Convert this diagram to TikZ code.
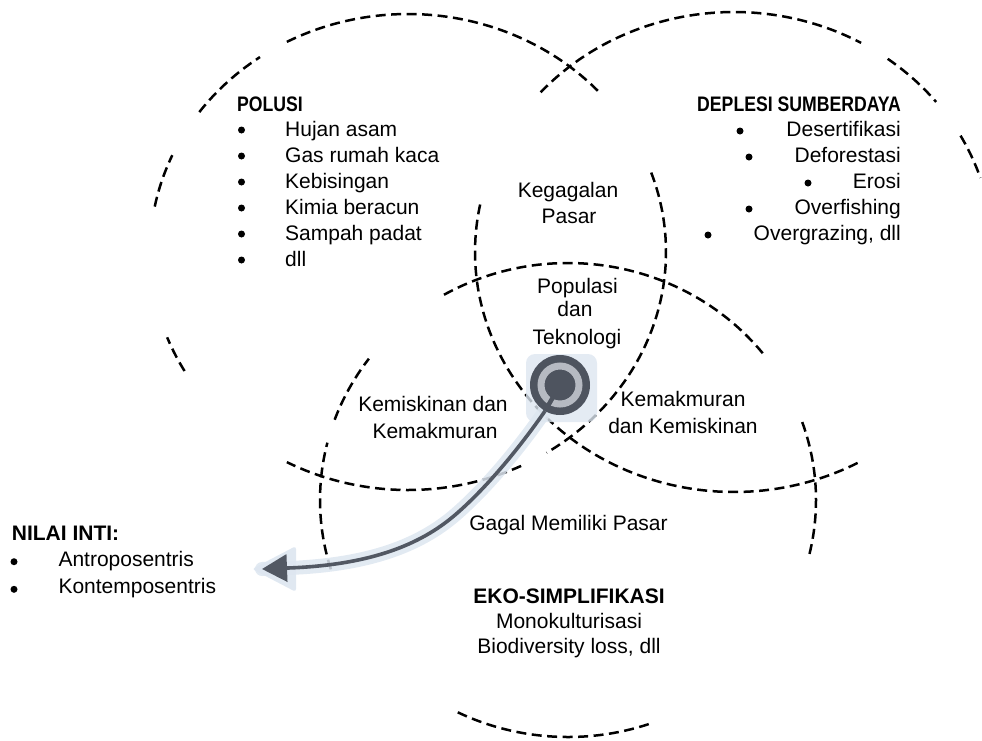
\documentclass[tikz,border=0pt]{standalone}
\usepackage{fontspec}
\setmainfont{Liberation Sans}
\newfontfamily\narrowfont[FakeStretch=0.84]{Liberation Sans}
\usetikzlibrary{arrows.meta}
\definecolor{glowc}{RGB}{221,230,240}
\definecolor{icdark}{RGB}{78,84,95}
\definecolor{iclight}{RGB}{182,186,194}
\definecolor{arrc}{RGB}{82,88,99}
\newcommand{\earc}[6]{\draw[dsh] plot[domain=#5:#6, samples=90, variable=\t] ({#1+#3*cos(\t)},{#2+#4*sin(\t)});}
\begin{document}
\begin{tikzpicture}[x=1pt,y=-1pt,
  dsh/.style={draw=black, line width=2.5pt, dash pattern=on 10pt off 5.5pt},
  txt/.style={font=\fontsize{21}{26}\selectfont, inner sep=0pt},
  hdr/.style={font=\fontsize{21}{26}\selectfont\bfseries, inner sep=0pt},
  nhdr/.style={font=\fontsize{21}{26}\selectfont\narrowfont\bfseries, inner sep=0pt},
  bul/.style={circle, fill=black, inner sep=0pt, minimum size=7pt},
  glowline/.style={draw=glowc, opacity=0.85, line width=14pt, line cap=round, line join=round},
  arrline/.style={draw=arrc, line width=3.6pt}
  ]
\useasboundingbox (0,0) rectangle (982,740);

% ---- ellipse P (Polusi)
\earc{408}{252}{258}{238}{242}{318}
\earc{408}{252}{258}{238}{216}{235}
\earc{408}{252}{258}{238}{191}{204}
\earc{408}{252}{258}{238}{150}{159}
\earc{408}{252}{258}{238}{64}{118}
\earc{408}{252}{258}{238}{-19.5}{57.5}
% ---- ellipse D (Deplesi)
\earc{734}{252}{259}{240}{221.7}{299.4}
\earc{734}{252}{259}{240}{306.4}{321.3}
\earc{734}{252}{259}{240}{331}{342}
\earc{734}{252}{259}{240}{61.5}{192}
% ---- ellipse E (Eko)
\earc{568}{500}{248}{237}{240}{322}
\earc{568}{500}{248}{237}{199.8}{216.6}
\earc{568}{500}{248}{237}{163}{194}
\earc{568}{500}{248}{237}{-19.2}{13.3}
\earc{568}{500}{248}{237}{71}{117}

% ---- texts: Polusi
\node[nhdr, anchor=base west] (polT) at (237,111) {POLUSI};
\foreach \i/\lbl in {0/Hujan asam,1/Gas rumah kaca,2/Kebisingan,3/Kimia beracun,4/Sampah padat,5/dll} {
  \node[bul] (pb\i) at (241.5,{130+26*\i}) {};
  \node[txt, anchor=base west] (pi\i) at (285,{136.5+26*\i}) {\lbl};
}
% ---- Deplesi
\node[nhdr, anchor=base east] (depT) at (901,111) {DEPLESI SUMBERDAYA};
\foreach \i/\lbl/\bx in {0/Desertifikasi/740,1/Deforestasi/749,2/Erosi/808,3/Overfishing/749,4/{Overgrazing, dll}/708} {
  \node[bul] (db\i) at (\bx,{131+26*\i}) {};
  \node[txt, anchor=base east] (di\i) at (901,{136.5+26*\i}) {\lbl};
}
% ---- intersections
\node[txt, anchor=base] (keg1) at (568,197) {Kegagalan};
\node[txt, anchor=base] (keg2) at (569,223.3) {Pasar};
\node[txt, anchor=base] (pop1) at (577.5,293) {Populasi};
\node[txt, anchor=base] (pop2) at (575,316.7) {dan};
\node[txt, anchor=base] (pop3) at (577,344) {Teknologi};
\node[txt, anchor=base] (kk1) at (433,411.7) {Kemiskinan dan};
\node[txt, anchor=base] (kk2) at (435,438.5) {Kemakmuran};
\node[txt, anchor=base] (km1) at (683,406.7) {Kemakmuran};
\node[txt, anchor=base] (km2) at (683,433.3) {dan Kemiskinan};
\node[txt, anchor=base] (gmp) at (568.5,530.7) {Gagal Memiliki Pasar};
% ---- Eko
\node[hdr, anchor=base] (ekoT) at (569,603.3) {EKO-SIMPLIFIKASI};
\node[txt, anchor=base] (eko1) at (569,628) {Monokulturisasi};
\node[txt, anchor=base] (eko2) at (569,653.3) {Biodiversity loss, dll};
% ---- Nilai inti
\node[hdr, anchor=base west] (niT) at (11.7,540) {NILAI INTI:};
\node[bul] (nb0) at (14,561.7) {};
\node[bul] (nb1) at (14,589.3) {};
\node[txt, anchor=base west] (ni0) at (58.3,566.7) {Antroposentris};
\node[txt, anchor=base west] (ni1) at (58.3,593.3) {Kontemposentris};

% ---- glows
\fill[glowc, opacity=0.8, rounded corners=9pt] (526,354) rectangle (597,422);
\coordinate (s0) at (545,411);
\coordinate (tail) at (288,568);
\coordinate (tip) at (262,569);
\draw[glowline] (s0) .. controls (525,440) and (490,485) .. (455,515)
   .. controls (420,545) and (370,565) .. (tail) -- (tip);
\fill[glowc, opacity=0.9, rounded corners=3pt] (252,569) -- (296,546) -- (296,592) -- cycle;

% ---- icon
\node[circle, fill=icdark, minimum size=60pt, inner sep=0pt] (icon) at (560,385) {};
\draw[iclight, line width=7pt] (icon.center) circle[radius=19pt];
\fill[icdark] (icon.center) circle[radius=15pt];
\draw[icdark, line width=4.5pt] (icon.center) -- (s0);

% ---- arrow
\draw[arrline, -{Triangle[length=25pt,width=27pt]}] (s0) .. controls (525,440) and (490,485) .. (455,515)
   .. controls (420,545) and (370,565) .. (tail) -- (tip);
\end{tikzpicture}
\end{document}
